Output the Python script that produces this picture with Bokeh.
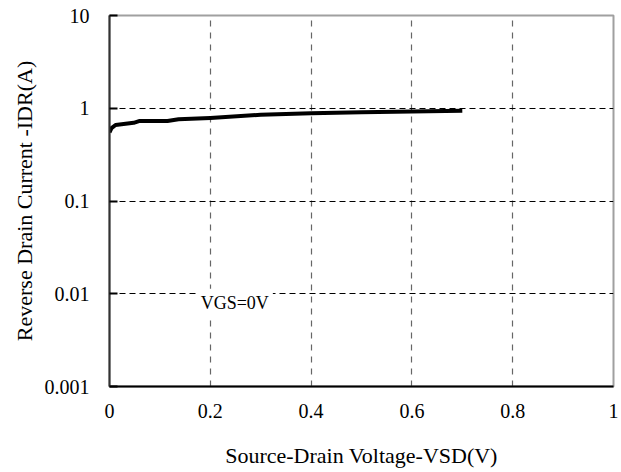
from bokeh.plotting import figure
from bokeh.models import FixedTicker, Label, CustomJSTickFormatter
from bokeh.embed import file_html
from bokeh.resources import INLINE

# data
vsd = [0.0, 0.004, 0.012, 0.028, 0.048, 0.06, 0.09, 0.115, 0.137, 0.2, 0.3, 0.4, 0.5, 0.6, 0.7]
idr = [0.55, 0.61, 0.66, 0.675, 0.696, 0.73, 0.73, 0.73, 0.76, 0.787, 0.85, 0.885, 0.905, 0.92, 0.94]

x_ticks = [0, 0.2, 0.4, 0.6, 0.8, 1]
x_tick_labels = ["0", "0.2", "0.4", "0.6", "0.8", "1"]
y_ticks = [0.001, 0.01, 0.1, 1, 10]
y_tick_labels = ["0.001", "0.01", "0.1", "1", "10"]

x_title = "Source-Drain Voltage-VSD(V)"
y_title = "Reverse Drain Current -IDR(A)"
note_text = "VGS=0V"
note_x = 0.173
note_y = 0.01

FONT = "Liberation Serif"

p = figure(width=620, height=470, y_axis_type="log",
           x_range=(0, 1), y_range=(0.001, 10),
           output_backend="svg", toolbar_location=None,
           min_border_left=109, min_border_right=7,
           min_border_top=15, min_border_bottom=82)

p.background_fill_color = "white"
p.border_fill_color = "white"
p.outline_line_color = "#a0a0a0"
p.outline_line_width = 2

p.line(vsd, idr, line_color="black", line_width=4, line_join="round")

JS = """
let best = 0, d = Infinity;
for (let i = 0; i < tvals.length; i++) {
  let err;
  if (islog) {
    err = Math.abs(Math.log10(tvals[i]) - Math.log10(tick));
  } else {
    err = Math.abs(tvals[i] - tick);
  }
  if (err < d) { d = err; best = i; }
}
return tlabels[best];
"""

p.xaxis.ticker = FixedTicker(ticks=x_ticks)
p.xaxis.formatter = CustomJSTickFormatter(args=dict(tvals=x_ticks, tlabels=x_tick_labels, islog=False), code=JS)
p.yaxis.ticker = FixedTicker(ticks=y_ticks)
p.yaxis.formatter = CustomJSTickFormatter(args=dict(tvals=y_ticks, tlabels=y_tick_labels, islog=True), code=JS)

for ax in (p.xaxis[0], p.yaxis[0]):
    ax.major_label_text_font = FONT
    ax.major_label_text_font_size = "20px"
    ax.major_label_text_color = "black"
    ax.axis_label_text_font = FONT
    ax.axis_label_text_font_size = "22px"
    ax.axis_label_text_font_style = "normal"
    ax.axis_label_text_color = "black"
    ax.minor_tick_line_color = None

p.xaxis.axis_label = x_title
p.yaxis.axis_label = y_title

p.xaxis.axis_line_color = "black"
p.xaxis.axis_line_width = 2
p.xaxis.major_tick_line_color = None
p.xaxis.major_label_standoff = 11
p.xaxis.axis_label_standoff = 22

p.yaxis.axis_line_color = "#333333"
p.yaxis.axis_line_width = 2
p.yaxis.major_tick_in = 8
p.yaxis.major_tick_out = 0
p.yaxis.major_tick_line_color = "black"
p.yaxis.major_tick_line_width = 2
p.yaxis.major_label_standoff = 20
p.yaxis.axis_label_standoff = 5

p.xgrid.ticker = FixedTicker(ticks=[0.2, 0.4, 0.6, 0.8])
p.xgrid.grid_line_color = "#666666"
p.xgrid.grid_line_dash = "6 6"
p.xgrid.grid_line_width = 1.2
p.ygrid.ticker = FixedTicker(ticks=[0.01, 0.1, 1])
p.ygrid.grid_line_color = "black"
p.ygrid.grid_line_dash = "6 4"
p.ygrid.grid_line_width = 1

note = Label(x=note_x, y=note_y, text=note_text, y_offset=5,
             text_font=FONT, text_font_size="18px", text_color="black",
             text_baseline="top", text_align="left",
             background_fill_color="white", padding=4)
p.add_layout(note)

open("out.html", "w").write(file_html(p, INLINE))
